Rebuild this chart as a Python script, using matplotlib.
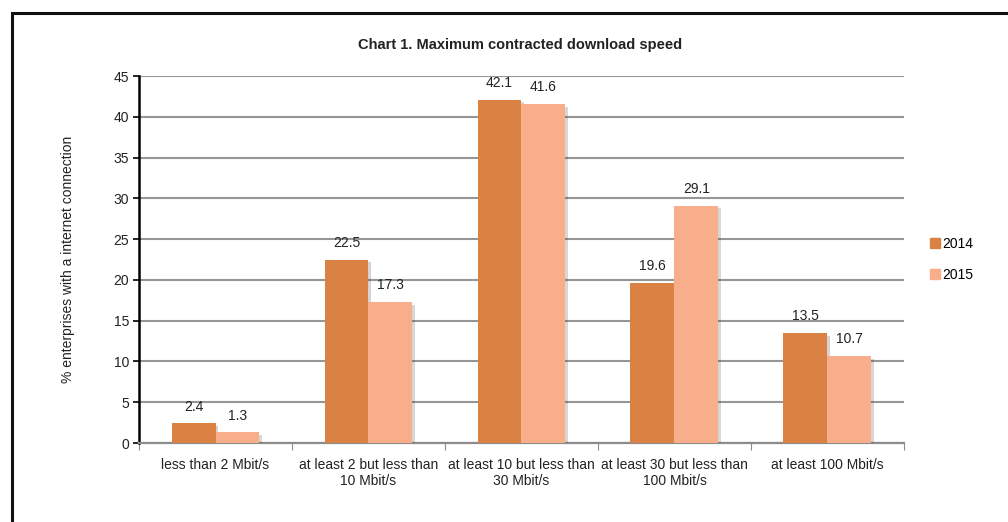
import numpy as np
import matplotlib.pyplot as plt
import matplotlib.patches as mpatches
import matplotlib.patheffects as pe

plt.rcParams['font.family'] = ['Liberation Sans', 'DejaVu Sans']

categories = ['less than 2 Mbit/s', 'at least 2 but less than\n10 Mbit/s',
              'at least 10 but less than\n30 Mbit/s', 'at least 30 but less than\n100 Mbit/s',
              'at least 100 Mbit/s']
years = ['2014', '2015']
v2014 = [2.4, 22.5, 42.1, 19.6, 13.5]
v2015 = [1.3, 17.3, 41.6, 29.1, 10.7]
colors = ['#DA8243', '#F8AE8A']

fig = plt.figure(figsize=(10.08, 5.22), dpi=100)
ax = fig.add_axes([0.1379, 0.1513, 0.7589, 0.7031])

# outer frame (cropped on right/bottom)
fig.patches.append(mpatches.Rectangle((12/1008, -0.1), 1.2, 1.1 - 13/522, transform=fig.transFigure,
                                      fill=False, edgecolor='#111111', linewidth=2.2))

x = np.arange(len(categories))
w = 0.2875
shadow = [pe.SimplePatchShadow(offset=(2, -2), alpha=0.2), pe.Normal()]
for i, (vals, yr) in enumerate(zip([v2014, v2015], years)):
    bars = ax.bar(x + (i - 0.5) * w, vals, w, color=colors[i], zorder=3)
    for b, v in zip(bars, vals):
        b.set_path_effects(shadow)
        ax.text(b.get_x() + b.get_width() / 2, v + 1.2, f'{v:.1f}', ha='center', va='bottom',
                fontsize=10, color='#222222')

ax.set_xlim(-0.5, len(categories) - 0.5)
ax.set_ylim(0, 45)
ax.set_yticks(range(0, 46, 5))
ax.set_xticks(np.arange(-0.5, len(categories), 1))
ax.set_xticklabels([])
ax.set_xticks(x, minor=True)
ax.set_xticklabels(categories, minor=True, fontsize=10, color='#222222')
ax.tick_params(axis='x', which='minor', length=0, pad=11)
ax.tick_params(axis='x', which='major', length=5, color='#8c8c8c', direction='out')
ax.tick_params(axis='y', length=4, width=1.2, labelsize=10, labelcolor='#222222', pad=3)
ax.yaxis.grid(True, color='#969696', linewidth=1.5, zorder=0)
ax.set_axisbelow(True)
for s in ['top', 'right']:
    ax.spines[s].set_visible(False)
ax.spines['left'].set_linewidth(1.8)
ax.spines['left'].set_color('black')
ax.spines['bottom'].set_color('#8c8c8c')
ax.spines['bottom'].set_linewidth(1.6)

ax.set_ylabel('% enterprises with a internet connection', fontsize=10, color='#222222', labelpad=28)
fig.text(0.516, 0.913, 'Chart 1. Maximum contracted download speed', ha='center', va='center',
         fontsize=10.5, fontweight='bold', color='#222222')

handles = [mpatches.Patch(color=c, label=yr) for c, yr in zip(colors, years)]
ax.legend(handles=handles, loc='center left', bbox_to_anchor=(1.018, 0.5), frameon=False, fontsize=10,
          handlelength=0.7, handleheight=0.7, handletextpad=0.15, labelspacing=1.2)

plt.savefig('out.png', dpi=100)
